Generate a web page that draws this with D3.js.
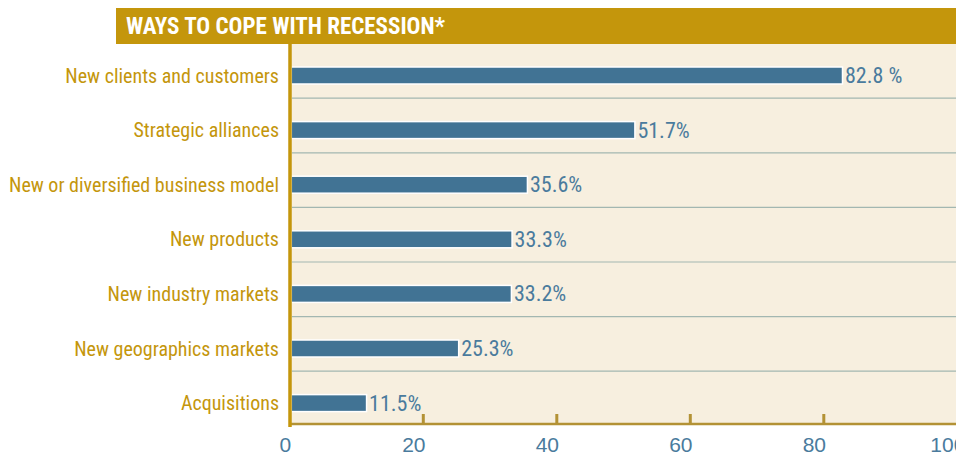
<!DOCTYPE html>
<html>
<head>
<meta charset="utf-8">
<script src="https://cdn.jsdelivr.net/npm/d3@7"></script>
<style>
  body { margin: 0; background: #fff; }
  svg { display: block; }
  text { font-family: "Liberation Sans Narrow", "Roboto Condensed", "Liberation Sans", sans-serif; }
</style>
</head>
<body>
<script>
// chart data
var title = "WAYS TO COPE WITH RECESSION*";
var categories = ["New clients and customers", "Strategic alliances", "New or diversified business model",
    "New products", "New industry markets", "New geographics markets", "Acquisitions"];
var values = [82.8, 51.7, 35.6, 33.3, 33.2, 25.3, 11.5];
var valueLabels = ["82.8 %", "51.7%", "35.6%", "33.3%", "33.2%", "25.3%", "11.5%"];
var xTicks = [0, 20, 40, 60, 80, 100];

var width = 956, height = 458;
var gold = "#c4960c", blue = "#417394", labelBlue = "#4a7b9d";

var svg = d3.select("body").append("svg")
    .attr("width", width)
    .attr("height", height);

var x = d3.scaleLinear().domain([0, 100]).range([289.8, 957.3]);
var y = d3.scaleBand().domain(categories).range([48.2, 430.4]).padding(0);

// plot background
svg.append("rect")
    .attr("x", 291).attr("y", 44)
    .attr("width", width - 291).attr("height", 424 - 44)
    .attr("fill", "#f7efdf");

// title band
svg.append("rect")
    .attr("x", 116).attr("y", 8)
    .attr("width", width - 116).attr("height", 36)
    .attr("fill", gold);
svg.append("text")
    .attr("x", 126).attr("y", 34)
    .attr("fill", "#fff")
    .attr("font-size", 23)
    .attr("font-weight", "bold")
    .text(title);

// separators between rows
svg.selectAll(".sep")
    .data(categories.slice(0, -1))
    .enter().append("line")
    .attr("class", "sep")
    .attr("x1", 292).attr("x2", width)
    .attr("y1", function (d) { return y(d) + y.bandwidth() / 2 + 22.7; })
    .attr("y2", function (d) { return y(d) + y.bandwidth() / 2 + 22.7; })
    .attr("stroke", "#a3b7b1")
    .attr("stroke-width", 1.2);

// bars
svg.selectAll(".bar")
    .data(values)
    .enter().append("rect")
    .attr("class", "bar")
    .attr("x", x(0) + 1.5)
    .attr("y", function (d, i) { return y(categories[i]) + y.bandwidth() / 2 - 8.5; })
    .attr("width", function (d) { return x(d) - x(0) - 1.5; })
    .attr("height", 17)
    .attr("fill", blue)
    .attr("stroke", "#fff")
    .attr("stroke-width", 1.5);

// value labels
svg.selectAll(".val")
    .data(values)
    .enter().append("text")
    .attr("class", "val")
    .attr("x", function (d) { return x(d) + 2.5; })
    .attr("y", function (d, i) { return y(categories[i]) + y.bandwidth() / 2 + 7.5; })
    .attr("fill", labelBlue)
    .attr("font-size", 22)
    .text(function (d, i) { return valueLabels[i]; });

// category labels
svg.selectAll(".cat")
    .data(categories)
    .enter().append("text")
    .attr("class", "cat")
    .attr("x", 279)
    .attr("y", function (d) { return y(d) + y.bandwidth() / 2 + 7; })
    .attr("text-anchor", "end")
    .attr("fill", gold)
    .attr("font-size", 20)
    .text(function (d) { return d; });

// bottom axis
var xAxis = svg.append("g")
    .attr("transform", "translate(0,424)")
    .call(d3.axisBottom(x).tickValues(xTicks).tickSize(0).tickPadding(0));
xAxis.select(".domain").remove();
xAxis.selectAll("text")
    .attr("dx", function (d) { return d === 0 ? -5 : -10; })
    .attr("dy", 28)
    .attr("fill", labelBlue)
    .attr("font-size", 21)
    .style("font-family", "'Liberation Sans Narrow', 'Liberation Sans', sans-serif");

svg.append("line")
    .attr("x1", 290).attr("x2", width)
    .attr("y1", 424).attr("y2", 424)
    .attr("stroke", "#b39235").attr("stroke-width", 2.5);

svg.selectAll(".tick-mark")
    .data(xTicks.slice(1, -1))
    .enter().append("line")
    .attr("class", "tick-mark")
    .attr("x1", function (d) { return x(d); })
    .attr("x2", function (d) { return x(d); })
    .attr("y1", 414).attr("y2", 424)
    .attr("stroke", "#b39235").attr("stroke-width", 3);

// left axis
svg.append("line")
    .attr("x1", 290).attr("x2", 290)
    .attr("y1", 44).attr("y2", 427)
    .attr("stroke", gold).attr("stroke-width", 3.5);
</script>
</body>
</html>
